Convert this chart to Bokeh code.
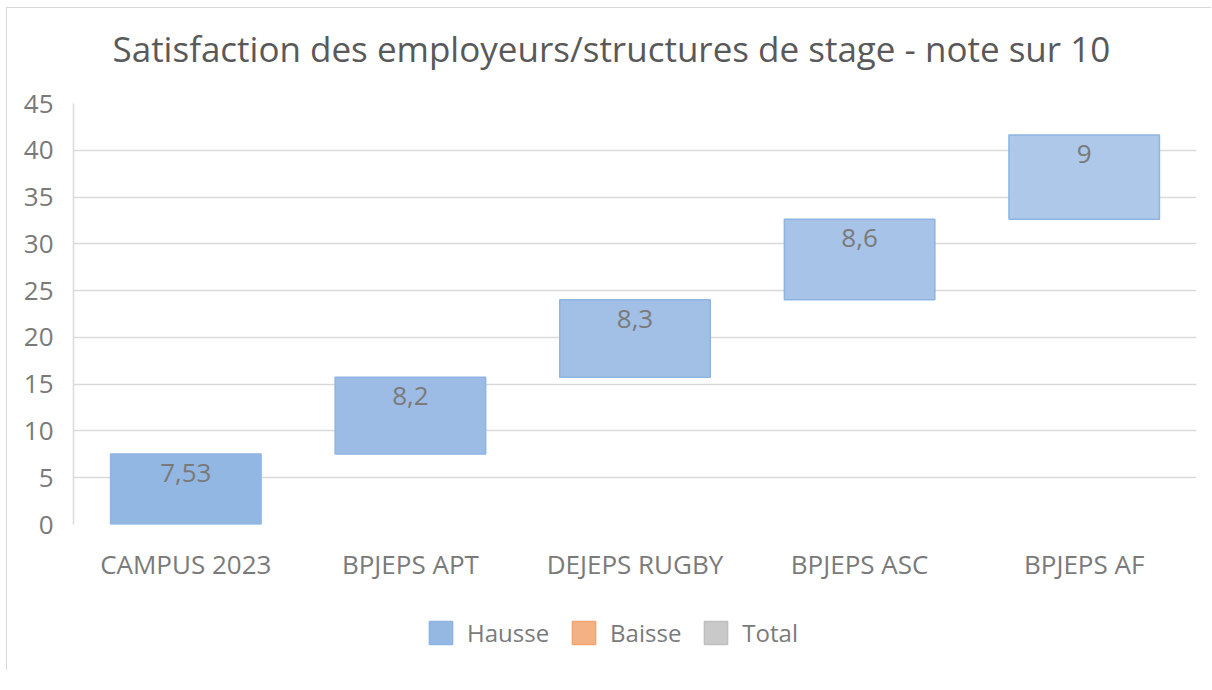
from bokeh.plotting import figure
from bokeh.models import ColumnDataSource, Legend, LegendItem, FixedTicker
from bokeh.layouts import column
from bokeh.embed import file_html
from bokeh.resources import INLINE
from bokeh.core.properties import value

# ---- data ----
categories = ["CAMPUS 2023", "BPJEPS APT", "DEJEPS RUGBY", "BPJEPS ASC", "BPJEPS AF"]
values = [7.53, 8.2, 8.3, 8.6, 9]
value_labels = ["7,53", "8,2", "8,3", "8,6", "9"]
y_ticks = [0, 5, 10, 15, 20, 25, 30, 35, 40, 45]
legend_labels = ["Hausse", "Baisse", "Total"]
title_text = "Satisfaction des employeurs/structures de stage - note sur 10"

# waterfall bottoms / tops
bottoms = []
tops = []
acc = 0.0
for v in values:
    bottoms.append(acc)
    acc += v
    tops.append(acc)

bar_fills = ["#93B7E3", "#9CBCE5", "#A2C0E6", "#A7C3E7", "#ADC8E8"]

FONT = "Open Sans"
TXT = "#7a7a7a"
BORDER = "1px solid #d9d9d9"

src = ColumnDataSource(dict(cat=categories, bottom=bottoms, top=tops,
                            lab=value_labels, fill=bar_fills))

# ---------------- title strip ----------------
tf = figure(x_range=categories, y_range=(0, 45), width=1205, height=78,
            x_axis_type=None, y_axis_type=None,
            output_backend="svg", toolbar_location=None,
            min_border_left=66, min_border_right=16, min_border_top=0, min_border_bottom=0)
tf.styles = {"border-left": BORDER, "border-top": BORDER}
tf.grid.visible = False
tf.outline_line_color = None
tf.border_fill_color = "white"
tf.title.text = title_text
tf.title.align = "left"
tf.title.offset = 39
tf.title.text_font = FONT
tf.title.text_font_size = "35px"
tf.title.text_font_style = "normal"
tf.title.text_color = "#595959"
tf.title.standoff = 29

# ---------------- main chart ----------------
p = figure(x_range=categories, y_range=(0, 45), width=1205, height=514,
           output_backend="svg", toolbar_location=None,
           min_border_left=66, min_border_right=16, min_border_top=18, min_border_bottom=75)
p.styles = {"border-left": BORDER}

p.outline_line_color = None
p.background_fill_color = "white"
p.border_fill_color = "white"

p.vbar(x="cat", bottom="bottom", top="top", width=0.67, source=src,
       fill_color="fill", line_color="#8DB4E2", line_width=1.5)

p.text(x="cat", y="top", text="lab", source=src, y_offset=10,
       text_align="center", text_baseline="top", text_font=value(FONT),
       text_font_size="26px", text_color=TXT)

p.xgrid.grid_line_color = None
p.ygrid.grid_line_color = "#d9d9d9"
p.ygrid.grid_line_width = 1.5
p.yaxis.ticker = FixedTicker(ticks=y_ticks)

p.yaxis.axis_line_color = "#d9d9d9"
p.yaxis.axis_line_width = 1.5
p.yaxis.major_tick_line_color = None
p.yaxis.minor_tick_line_color = None
p.yaxis.major_label_text_font = FONT
p.yaxis.major_label_text_font_size = "26px"
p.yaxis.major_label_text_color = TXT
p.yaxis.major_label_standoff = 14

p.xaxis.axis_line_color = None
p.xaxis.major_tick_line_color = None
p.xaxis.minor_tick_line_color = None
p.xaxis.major_label_text_font = FONT
p.xaxis.major_label_text_font_size = "26px"
p.xaxis.major_label_text_color = TXT
p.xaxis.major_label_standoff = 15

# ---------------- legend strip ----------------
lf = figure(x_range=categories, y_range=(0, 45), width=1205, height=71,
            x_axis_type=None, y_axis_type=None,
            output_backend="svg", toolbar_location=None,
            min_border_left=0, min_border_right=0, min_border_top=0, min_border_bottom=0)
lf.styles = {"border-left": BORDER}
lf.grid.visible = False
lf.outline_line_color = None
lf.border_fill_color = "white"

r_h = lf.vbar(x="cat", bottom="bottom", top="top", width=0.67, source=src,
              fill_color="#95B8E3", line_color="#8DB4E2", line_width=1.5, visible=False)
r_b = lf.vbar(x="cat", bottom="bottom", top="top", width=0.67, source=src,
              fill_color="#F4B183", line_color="#F4A46F", line_width=1.5, visible=False)
r_t = lf.vbar(x="cat", bottom="bottom", top="top", width=0.67, source=src,
              fill_color="#C9C9C9", line_color="#BFBFBF", line_width=1.5, visible=False)

legend = Legend(items=[LegendItem(label=legend_labels[0], renderers=[r_h]),
                       LegendItem(label=legend_labels[1], renderers=[r_b]),
                       LegendItem(label=legend_labels[2], renderers=[r_t])],
                orientation="horizontal", location=(353, 21),
                glyph_width=29, glyph_height=29, label_standoff=12, spacing=20,
                padding=0, margin=0, border_line_color=None,
                background_fill_alpha=0,
                label_text_font=FONT, label_text_font_size="24px",
                label_text_color=TXT)
lf.add_layout(legend, "center")

layout = column(tf, p, lf, spacing=0)
layout.styles = {"margin-left": "6px", "margin-top": "7px"}
open("out.html", "w").write(file_html(layout, INLINE))
